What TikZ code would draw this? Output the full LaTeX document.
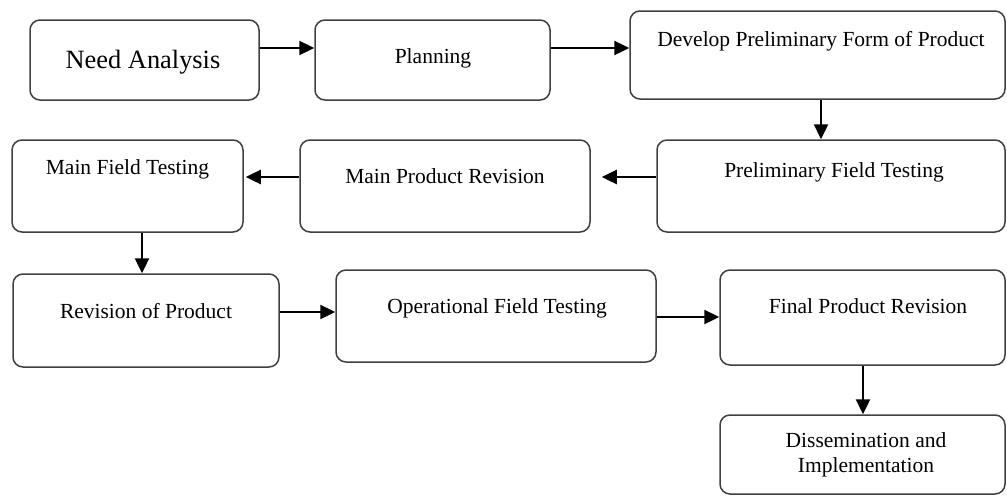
\documentclass[tikz,border=0pt]{standalone}
\usepackage{fontspec}
\setmainfont{Liberation Serif}
\usetikzlibrary{arrows.meta}
\begin{document}
\begin{tikzpicture}[x=1pt,y=-1pt,
  box/.style={draw=black!75, line width=1.5pt, rounded corners=10pt, rectangle, inner sep=0pt, fill=white},
  lbl/.style={inner sep=0pt, anchor=base, font=\fontsize{21.5}{25}\selectfont, align=center, text=black},
  arr/.style={line width=2.4pt, draw=black, -{Triangle[length=15pt,width=14pt]}}]
\useasboundingbox (0,0) rectangle (1007,496);
% boxes
\node[box, minimum width=229pt, minimum height=80pt] (na)  at (144.5,60) {};
\node[box, minimum width=235pt, minimum height=80pt] (pl)  at (432.5,60) {};
\node[box, minimum width=375pt, minimum height=88pt] (dv)  at (817.5,55) {};
\node[box, minimum width=348pt, minimum height=92pt] (pft) at (831,186) {};
\node[box, minimum width=290pt, minimum height=92pt] (mpr) at (445,186) {};
\node[box, minimum width=231pt, minimum height=92pt] (mft) at (127.5,186) {};
\node[box, minimum width=266pt, minimum height=93pt] (rop) at (146,320.5) {};
\node[box, minimum width=320pt, minimum height=92pt] (oft) at (496,316) {};
\node[box, minimum width=285pt, minimum height=95pt] (fpr) at (862.5,317.5) {};
\node[box, minimum width=285pt, minimum height=79pt] (di)  at (862.5,454.5) {};
% texts
\node[lbl, font=\fontsize{26.4}{30}\selectfont] (tna) at (143,68) {Need Analysis};
\node[lbl] (tpl)  at (433,63) {Planning};
\node[lbl] (tdv)  at (821,46) {Develop Preliminary Form of Product};
\node[lbl] (tpft) at (834,177) {Preliminary Field Testing};
\node[lbl] (tmpr) at (445,183) {Main Product Revision};
\node[lbl] (tmft) at (127.5,174) {Main Field Testing};
\node[lbl] (trop) at (146,318) {Revision of Product};
\node[lbl] (toft) at (497,313) {Operational Field Testing};
\node[lbl] (tfpr) at (868,313) {Final Product Revision};
\node[lbl, anchor=center] (tdi) at (866,455) {Dissemination and\\Implementation};
% connectors
\draw[arr] (na.east |- 0,48) -- (pl.west |- 0,48);
\draw[arr] (pl.east |- 0,48) -- (dv.west |- 0,48);
\draw[arr] (dv.south -| 821,0) -- (pft.north -| 821,0);
\draw[arr, shorten >=11pt] (pft.west |- 0,177) -- (mpr.east |- 0,177);
\draw[arr, shorten >=2pt] (mpr.west |- 0,177) -- (mft.east |- 0,177);
\draw[arr] (mft.south -| 142,0) -- (rop.north -| 142,0);
\draw[arr] (rop.east |- 0,312) -- (oft.west |- 0,312);
\draw[arr] (oft.east |- 0,317) -- (fpr.west |- 0,317);
\draw[arr] (fpr.south -| 863,0) -- (di.north -| 863,0);
\end{tikzpicture}
\end{document}
